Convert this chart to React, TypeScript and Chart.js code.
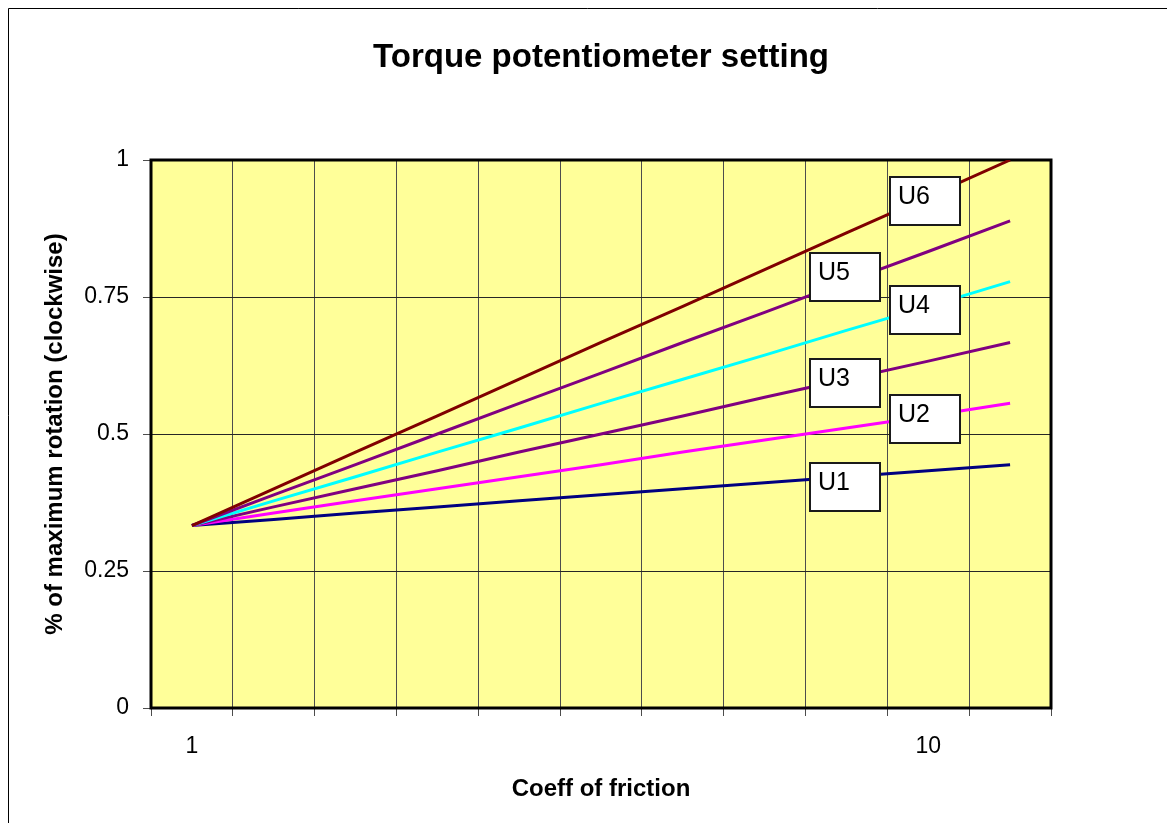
import { useEffect, useRef } from 'react';
import { Chart, registerables } from 'chart.js';

Chart.register(...registerables);

// ---- data ----
const categories = ['1', '2', '3', '4', '5', '6', '7', '8', '9', '10', '11'];
const shownTickLabels = ['1', '10'];
const yTicks = [0, 0.25, 0.5, 0.75, 1];

const seriesNames = ['U1', 'U2', 'U3', 'U4', 'U5', 'U6'];
const u1 = [0.333, 0.344, 0.356, 0.367, 0.378, 0.389, 0.4, 0.411, 0.422, 0.433, 0.444];
const u2 = [0.333, 0.356, 0.378, 0.4, 0.422, 0.444, 0.467, 0.489, 0.511, 0.533, 0.556];
const u3 = [0.333, 0.367, 0.4, 0.433, 0.467, 0.5, 0.533, 0.567, 0.6, 0.633, 0.667];
const u4 = [0.333, 0.378, 0.422, 0.467, 0.511, 0.556, 0.6, 0.644, 0.689, 0.733, 0.778];
const u5 = [0.333, 0.389, 0.444, 0.5, 0.556, 0.611, 0.667, 0.722, 0.778, 0.833, 0.889];
const u6 = [0.333, 0.4, 0.467, 0.533, 0.6, 0.667, 0.733, 0.8, 0.867, 0.933, 1.0];
const seriesValues = [u1, u2, u3, u4, u5, u6];
const seriesColors = ['#000080', '#FF00FF', '#800080', '#00FFFF', '#800080', '#800000'];

// data label placement: category index of the labelled point, pixel offset of box centre
const labelCategory = [8, 9, 8, 9, 8, 9];
const labelOffset: [number, number][] = [
  [-1.5, 10.5],
  [-3.5, 3.3],
  [-1.5, 3.5],
  [-3.5, 3.5],
  [-1.5, -4.5],
  [-3.5, 4],
];

const FONT = '"Liberation Sans", Arial, sans-serif';
const W = 1159;
const H = 815;
const PLOT_LEFT = 143;
const PLOT_RIGHT = 1043;
const PLOT_BOTTOM = 700;

const decorPlugin = {
  id: 'decor',
  beforeDraw(chart: any) {
    const { ctx, chartArea } = chart;
    ctx.save();
    ctx.fillStyle = '#ffffff';
    ctx.fillRect(0, 0, chart.width, chart.height);
    // outer frame (left & top visible)
    ctx.strokeStyle = '#000000';
    ctx.lineWidth = 1;
    ctx.beginPath();
    ctx.moveTo(0.5, chart.height);
    ctx.lineTo(0.5, 0.5);
    ctx.lineTo(chart.width, 0.5);
    ctx.stroke();
    ctx.fillStyle = '#FFFF99';
    ctx.fillRect(chartArea.left, chartArea.top, chartArea.right - chartArea.left, chartArea.bottom - chartArea.top);
    ctx.restore();
  },
  beforeDatasetsDraw(chart: any) {
    const { ctx, chartArea } = chart;
    ctx.save();
    ctx.strokeStyle = '#000000';
    ctx.lineWidth = 3;
    ctx.strokeRect(chartArea.left, chartArea.top, chartArea.right - chartArea.left, chartArea.bottom - chartArea.top);
    ctx.restore();
  },
  afterDatasetsDraw(chart: any) {
    const { ctx } = chart;
    ctx.save();
    const bw = 70;
    const bh = 48;
    seriesNames.forEach((name, i) => {
      const meta = chart.getDatasetMeta(i);
      const pt = meta.data[labelCategory[i]];
      if (!pt) return;
      const cx = pt.x + labelOffset[i][0];
      const cy = pt.y + labelOffset[i][1];
      const left = Math.round(cx - bw / 2);
      const top = Math.round(cy - bh / 2);
      ctx.fillStyle = '#ffffff';
      ctx.fillRect(left, top, bw, bh);
      ctx.strokeStyle = '#1a1a1a';
      ctx.lineWidth = 2;
      ctx.strokeRect(left, top, bw, bh);
      ctx.fillStyle = '#000000';
      ctx.font = `25px ${FONT}`;
      ctx.textAlign = 'left';
      ctx.textBaseline = 'alphabetic';
      ctx.fillText(name, left + 8, top + 26.5);
    });
    ctx.restore();
  },
};

export default function App() {
  const canvasRef = useRef<HTMLCanvasElement | null>(null);

  useEffect(() => {
    if (!canvasRef.current) return;
    const chart = new Chart(canvasRef.current, {
      type: 'line',
      data: {
        labels: categories,
        datasets: seriesNames.map((name, i) => ({
          label: name,
          data: seriesValues[i],
          borderColor: seriesColors[i],
          backgroundColor: seriesColors[i],
          borderWidth: 3,
          pointRadius: 0,
          pointHoverRadius: 0,
          tension: 0,
          fill: false,
          order: seriesNames.length - i,
        })),
      },
      options: {
        responsive: false,
        animation: false,
        events: [],
        layout: { padding: { top: 0, left: 0, right: W - PLOT_RIGHT, bottom: 0 } },
        plugins: {
          legend: { display: false },
          tooltip: { enabled: false },
          title: {
            display: true,
            text: 'Torque potentiometer setting',
            fullSize: false,
            color: '#000000',
            font: { family: FONT, size: 33, weight: 'bold', lineHeight: 1.2 },
            padding: { top: 30.5, bottom: 81.9 },
          },
        },
        scales: {
          x: {
            type: 'category',
            offset: true,
            grid: {
              display: true,
              offset: true,
              color: '#4d4d4d',
              tickColor: '#4d4d4d',
              lineWidth: 1,
              drawTicks: true,
              tickLength: 8,
            },
            border: { display: false },
            ticks: {
              autoSkip: false,
              maxRotation: 0,
              minRotation: 0,
              padding: 17,
              color: '#000000',
              font: { family: FONT, size: 23 },
              callback: (_v: any, idx: number) =>
                shownTickLabels.includes(categories[idx]) ? categories[idx] : '',
            },
            title: {
              display: true,
              text: 'Coeff of friction',
              color: '#000000',
              font: { family: FONT, size: 24, weight: 'bold', lineHeight: 1.2 },
              padding: { top: 0, bottom: 19 },
            },
            afterFit: (scale: any) => {
              scale.height = H - PLOT_BOTTOM;
            },
          },
          y: {
            min: 0,
            max: 1,
            afterBuildTicks: (scale: any) => {
              scale.ticks = yTicks.map((v) => ({ value: v }));
            },
            grid: {
              color: '#262626',
              tickColor: '#4d4d4d',
              lineWidth: 1,
              drawTicks: true,
              tickLength: 8,
            },
            border: { display: false },
            ticks: {
              padding: 14,
              color: '#000000',
              font: { family: FONT, size: 23 },
              callback: (v: any) => String(v),
            },
            title: {
              display: true,
              text: '% of maximum rotation (clockwise)',
              color: '#000000',
              font: { family: FONT, size: 24, weight: 'bold', lineHeight: 1.2 },
              padding: { top: 32.6, bottom: 0 },
            },
            afterFit: (scale: any) => {
              scale.width = PLOT_LEFT;
            },
          },
        },
      },
      plugins: [decorPlugin],
    } as any);
    return () => chart.destroy();
  }, []);

  return (
    <div style={{ width: W, height: H }}>
      <canvas ref={canvasRef} width={W} height={H} style={{ display: 'block', width: W, height: H }} />
    </div>
  );
}
